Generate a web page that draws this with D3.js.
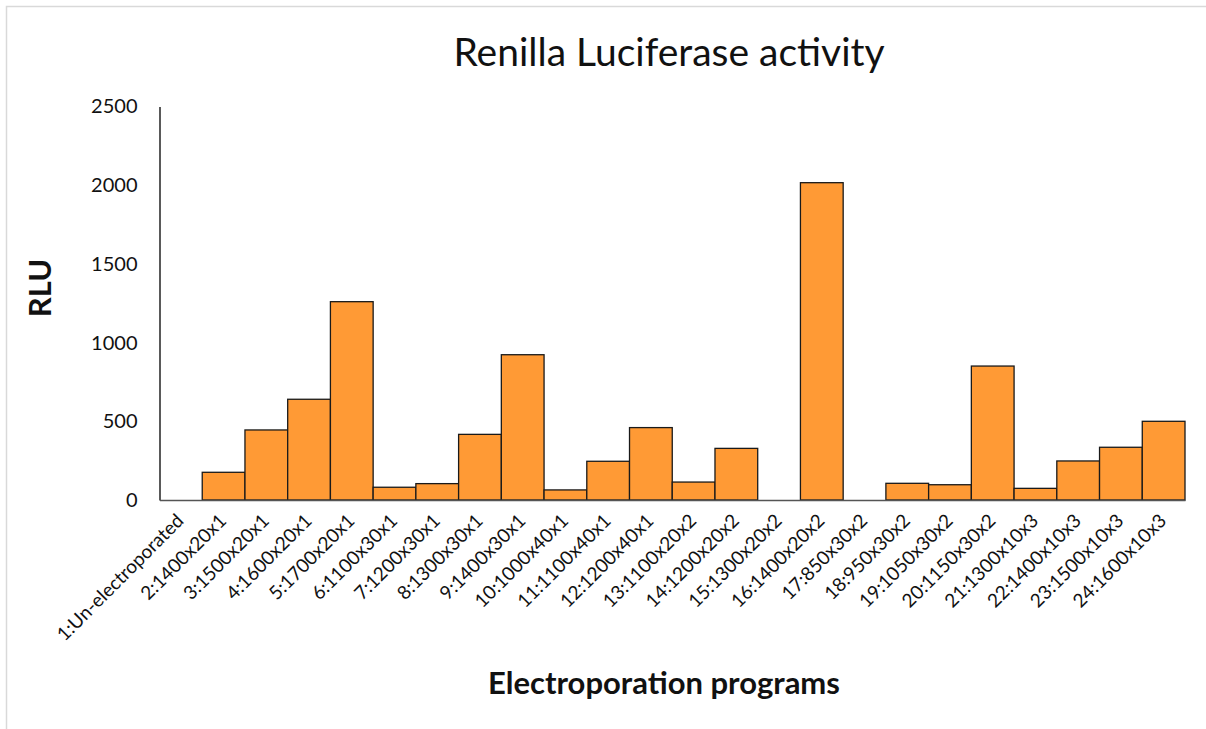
<!DOCTYPE html>
<html lang="en">
<head>
    <meta charset="UTF-8">
    <title>Renilla Luciferase activity</title>
    <script src="https://d3js.org/d3.v7.min.js"></script>
    <style>
        body { margin: 0; background: #fff; }
        svg { font-family: Lato, "Open Sans", sans-serif; }
        .bar { fill: #ff9a35; stroke: #1a1a1a; stroke-width: 1.3px; }
    </style>
</head>
<body>
    <script>
        // Chart data
        const programs = [
            "1:Un-electroporated", "2:1400x20x1", "3:1500x20x1", "4:1600x20x1",
            "5:1700x20x1", "6:1100x30x1", "7:1200x30x1", "8:1300x30x1",
            "9:1400x30x1", "10:1000x40x1", "11:1100x40x1", "12:1200x40x1",
            "13:1100x20x2", "14:1200x20x2", "15:1300x20x2", "16:1400x20x2",
            "17:850x30x2", "18:950x30x2", "19:1050x30x2", "20:1150x30x2",
            "21:1300x10x3", "22:1400x10x3", "23:1500x10x3", "24:1600x10x3"
        ];
        const rlu = [
            0, 176, 445, 640, 1260, 81, 104, 417, 923, 64, 246, 460,
            114, 328, 0, 2016, 0, 106, 97, 851, 74, 248, 335, 500
        ];
        const yTicks = [0, 500, 1000, 1500, 2000, 2500];

        const width = 1206;
        const height = 729;

        const svg = d3.select("body")
                      .append("svg")
                      .attr("width", width)
                      .attr("height", height);

        // light frame round the chart
        svg.append("rect")
           .attr("x", 6.5)
           .attr("y", 6.5)
           .attr("width", width + 20)
           .attr("height", height + 20)
           .attr("fill", "none")
           .attr("stroke", "#d9d9d9")
           .attr("stroke-width", 1.5);

        const x = d3.scaleBand()
                    .domain(programs)
                    .range([159.5, 1185])
                    .padding(0);

        const y = d3.scaleLinear()
                    .domain([0, 2500])
                    .range([500, 106.5]);

        // bars
        svg.selectAll(".bar")
           .data(programs)
           .enter()
           .filter((d, i) => rlu[i] > 0)
           .append("rect")
           .attr("class", "bar")
           .attr("x", d => x(d))
           .attr("y", d => y(rlu[programs.indexOf(d)]))
           .attr("width", x.bandwidth())
           .attr("height", d => y(0) - y(rlu[programs.indexOf(d)]));

        // y axis
        const yAxis = svg.append("g")
           .attr("transform", `translate(${x.range()[0]},0)`)
           .call(d3.axisLeft(y).tickValues(yTicks).tickFormat(d3.format("d")).tickSize(0).tickPadding(22))
           .attr("font-family", null);
        yAxis.select(".domain").attr("stroke", "#000").attr("stroke-width", 1.3);
        yAxis.selectAll("text")
             .attr("font-size", 20)
             .attr("fill", "#111");

        // x axis
        const xAxis = svg.append("g")
           .attr("transform", `translate(0,${y(0)})`)
           .call(d3.axisBottom(x).tickSize(0).tickPadding(0))
           .attr("font-family", null);
        xAxis.select(".domain").attr("stroke", "#555").attr("stroke-width", 1.5);
        xAxis.selectAll("text")
             .attr("font-size", 19)
             .attr("fill", "#111")
             .attr("text-anchor", "end")
             .attr("dy", "0")
             .attr("transform", "translate(4,22) rotate(-45)");

        // title
        svg.append("text")
           .attr("x", 669)
           .attr("y", 66)
           .attr("text-anchor", "middle")
           .attr("font-size", 39)
           .attr("fill", "#111")
           .text("Renilla Luciferase activity");

        // axis titles
        svg.append("text")
           .attr("x", 664)
           .attr("y", 694)
           .attr("text-anchor", "middle")
           .attr("font-size", 31)
           .attr("font-weight", "bold")
           .attr("fill", "#111")
           .text("Electroporation programs");

        svg.append("text")
           .attr("transform", "translate(51,288) rotate(-90)")
           .attr("text-anchor", "middle")
           .attr("font-size", 31)
           .attr("font-weight", "bold")
           .attr("fill", "#111")
           .text("RLU");
    </script>
</body>
</html>
